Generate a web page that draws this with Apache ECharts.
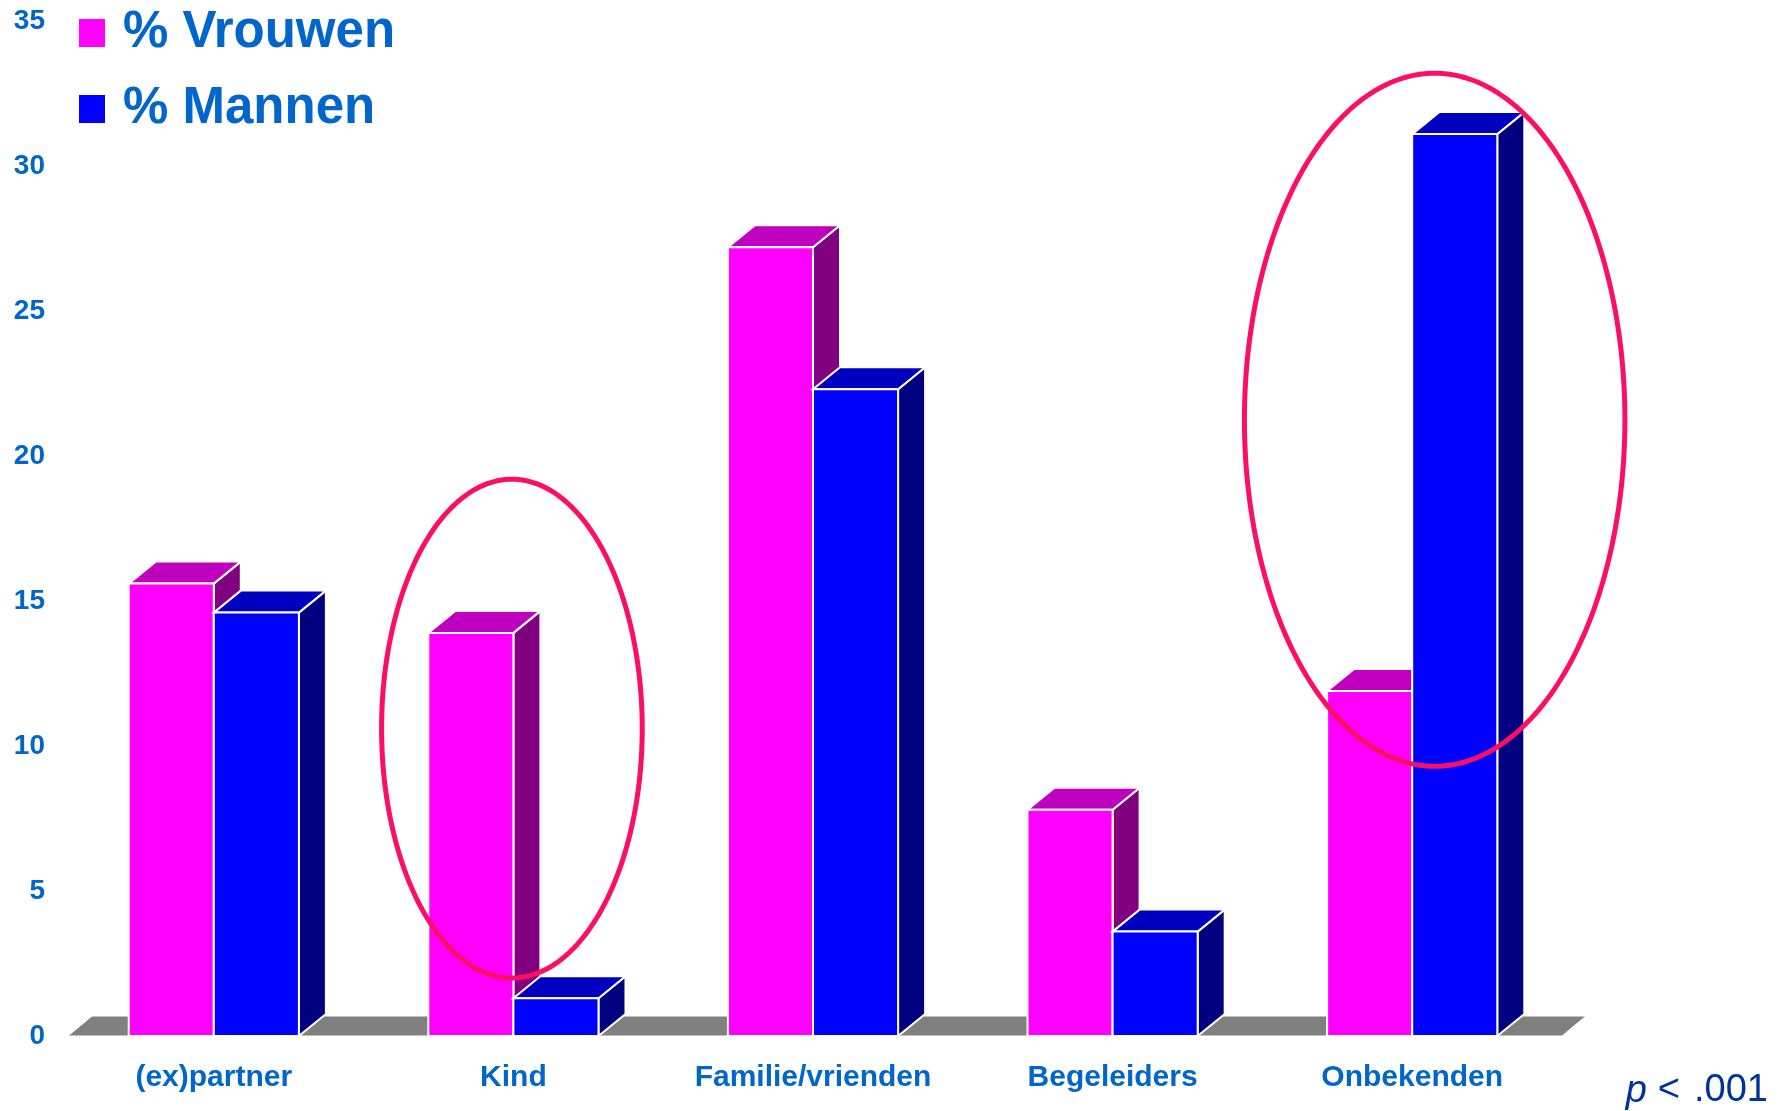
<!DOCTYPE html>
<html>
<head>
<meta charset="utf-8">
<script src="https://cdn.jsdelivr.net/npm/echarts@6/dist/echarts.min.js"></script>
<style>
  html, body { margin: 0; padding: 0; background: #ffffff; }
  #chart { width: 1781px; height: 1111px; }
</style>
</head>
<body>
<div id="chart"></div>
<script>
// Dader-categorieën en percentages per geslacht
const categories = ['(ex)partner', 'Kind', 'Familie/vrienden', 'Begeleiders', 'Onbekenden'];
const vrouwen = [15.6, 13.9, 27.2, 7.8, 11.9];
const mannen = [14.6, 1.3, 22.3, 3.6, 31.1];
const seriesNames = ['% Vrouwen', '% Mannen'];

// Waarde-as
const yMin = 0;
const yMax = 35;
const yStep = 5;

// Omcirkelde categorieën (ondergrens / bovengrens in waarde-eenheden)
const highlightCategories = ['Kind', 'Onbekenden'];
const highlightLow = [2.0, 9.3];
const highlightHigh = [19.2, 33.2];

// Significantie-noot
const noteSymbol = 'p';
const noteRelation = '<';
const noteValue = '.001';

// --- opmaak ---
const FONT = '"Liberation Sans", Arial, sans-serif';
const TEXT_BLUE = '#0066CC';
const BAR_FRAC = 0.284;      // breedte van één balk t.o.v. categoriebreedte
const DEPTH_X = 27, DEPTH_Y = 22;
const FLOOR_DX = 24, FLOOR_DY = 20;
// horizontale omvang van de ellipsen, in categoriebreedtes t.o.v. het midden
const ellipseSpan = { 'Kind': [-0.44, 0.43], 'Onbekenden': [-0.56, 0.71] };

const palette = {
  vrouwen: { front: '#FF00FF', top: '#BF00BF', side: '#800080' },
  mannen:  { front: '#0000FF', top: '#0000C0', side: '#000080' }
};

function makeBar(colors, leftOfCenter) {
  return function (params, api) {
    const cat = api.value(0);
    const v = api.value(1);
    const base = api.coord([cat, 0]);
    const top = api.coord([cat, v]);
    const cw = api.size([1, 0])[0];
    const w = cw * BAR_FRAC;
    const x0 = leftOfCenter ? base[0] - w : base[0];
    const x1 = x0 + w;
    const yb = base[1], yt = top[1];
    const edge = { stroke: '#ffffff', lineWidth: 2, lineJoin: 'miter' };
    return {
      type: 'group',
      children: [
        { type: 'polygon',
          shape: { points: [[x1, yb], [x1 + DEPTH_X, yb - DEPTH_Y], [x1 + DEPTH_X, yt - DEPTH_Y], [x1, yt]] },
          style: Object.assign({ fill: colors.side }, edge) },
        { type: 'polygon',
          shape: { points: [[x0, yt], [x0 + DEPTH_X, yt - DEPTH_Y], [x1 + DEPTH_X, yt - DEPTH_Y], [x1, yt]] },
          style: Object.assign({ fill: colors.top }, edge) },
        { type: 'rect',
          shape: { x: x0, y: yt, width: w, height: yb - yt },
          style: Object.assign({ fill: colors.front }, edge) }
      ]
    };
  };
}

function renderFloor(params, api) {
  const first = api.coord([api.value(0), 0]);
  const last = api.coord([api.value(1), 0]);
  const cw = api.size([1, 0])[0];
  const xl = first[0] - cw / 2 + 4, xr = last[0] + cw / 2, y = first[1];
  return {
    type: 'polygon',
    shape: { points: [[xl, y], [xl + FLOOR_DX, y - FLOOR_DY], [xr + FLOOR_DX, y - FLOOR_DY], [xr, y]] },
    style: { fill: '#808080', stroke: '#ffffff', lineWidth: 1 }
  };
}

function renderEllipse(params, api) {
  const cat = api.value(0);
  const lo = api.coord([cat, api.value(1)]);
  const hi = api.coord([cat, api.value(2)]);
  const cw = api.size([1, 0])[0];
  const span = ellipseSpan[categories[cat]];
  const xl = lo[0] + span[0] * cw, xr = lo[0] + span[1] * cw;
  const cx = (xl + xr) / 2, cy = (lo[1] + hi[1]) / 2;
  const rx = (xr - xl) / 2, ry = (lo[1] - hi[1]) / 2;
  const pts = [];
  for (let k = 0; k < 240; k++) {
    const t = (k / 240) * Math.PI * 2;
    pts.push([cx + rx * Math.cos(t), cy + ry * Math.sin(t)]);
  }
  return {
    type: 'polygon',
    shape: { points: pts },
    style: { fill: 'none', stroke: '#FA0F64', lineWidth: 5 }
  };
}

const chart = echarts.init(document.getElementById('chart'), null, { renderer: 'canvas' });

chart.setOption({
  backgroundColor: '#ffffff',
  animation: false,
  grid: { left: 64, right: 219, top: 21, bottom: 75, containLabel: false },
  legend: {
    data: seriesNames,
    orient: 'vertical',
    left: 79,
    top: 5,
    padding: 0,
    itemGap: 20,
    itemWidth: 26,
    itemHeight: 28,
    icon: 'rect',
    selectedMode: false,
    formatter: function (name) { return '{n|' + name + '}'; },
    textStyle: {
      color: TEXT_BLUE, fontSize: 51, fontWeight: 'bold', fontFamily: FONT, lineHeight: 56,
      rich: { n: { color: TEXT_BLUE, fontSize: 51, fontWeight: 'bold', fontFamily: FONT, lineHeight: 56, padding: [0, 0, 0, 13] } }
    }
  },
  xAxis: {
    type: 'category',
    data: categories,
    axisLine: { show: false },
    axisTick: { show: false },
    splitLine: { show: false },
    axisLabel: {
      interval: 0, margin: 27, color: TEXT_BLUE, fontSize: 30, fontWeight: 'bold',
      fontFamily: FONT, lineHeight: 30
    }
  },
  yAxis: {
    type: 'value',
    min: yMin, max: yMax, interval: yStep,
    axisLine: { show: false },
    axisTick: { show: false },
    splitLine: { show: false },
    axisLabel: { margin: 19, color: TEXT_BLUE, fontSize: 28, fontWeight: 'bold', fontFamily: FONT }
  },
  graphic: [{
    type: 'text',
    right: 13,
    top: 1072,
    style: {
      text: '{i|' + noteSymbol + '}{g|' + noteRelation + '}{d|' + noteValue + '}',
      fill: '#003399',
      fontSize: 38,
      fontFamily: FONT,
      rich: {
        i: { fontStyle: 'italic', fontSize: 38, fontFamily: FONT, fill: '#003399' },
        g: { fontSize: 38, fontFamily: FONT, fill: '#003399', padding: [0, 14, 0, 11] },
        d: { fontSize: 38, fontFamily: FONT, fill: '#003399' }
      }
    }
  }],
  series: [
    {
      name: 'floor',
      type: 'custom',
      renderItem: renderFloor,
      data: [[0, categories.length - 1]],
      encode: { x: [0, 1] },
      silent: true,
      z: 1
    },
    {
      name: seriesNames[0],
      type: 'custom',
      renderItem: makeBar(palette.vrouwen, true),
      itemStyle: { color: palette.vrouwen.front },
      data: vrouwen.map((v, i) => [i, v]),
      encode: { x: 0, y: 1 },
      z: 2
    },
    {
      name: seriesNames[1],
      type: 'custom',
      renderItem: makeBar(palette.mannen, false),
      itemStyle: { color: palette.mannen.front },
      data: mannen.map((v, i) => [i, v]),
      encode: { x: 0, y: 1 },
      z: 3
    },
    {
      name: 'highlight',
      type: 'custom',
      renderItem: renderEllipse,
      clip: false,
      silent: true,
      data: highlightCategories.map((c, k) => [categories.indexOf(c), highlightLow[k], highlightHigh[k]]),
      encode: { x: 0, y: [1, 2] },
      z: 4
    }
  ]
});
</script>
</body>
</html>
